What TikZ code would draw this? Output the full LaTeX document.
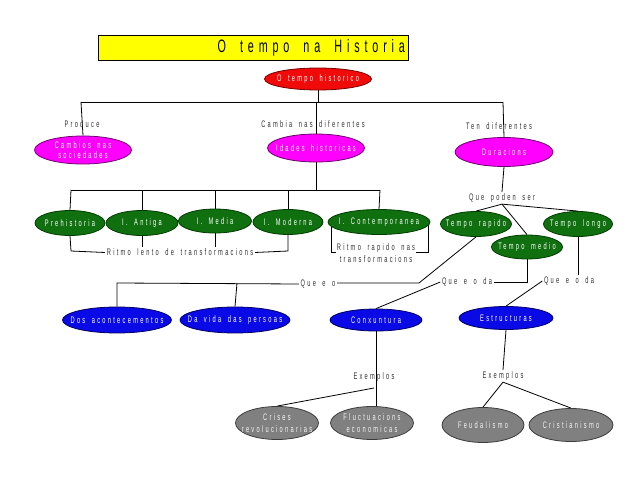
\documentclass[tikz,border=0pt]{standalone}
\usepackage{fontspec}
\setmainfont{Liberation Sans}[FakeStretch=0.6,LetterSpace=24,WordSpace=1.7]
\newfontfamily\titlefont{Liberation Sans}[FakeStretch=0.6,LetterSpace=27]
\usetikzlibrary{shapes.geometric,backgrounds}
\newcommand{\zw}[1]{\makebox[0pt][c]{#1}}
\newcommand{\tsp}{\hspace{14pt}}
\definecolor{ttlyellow}{RGB}{255,255,0}
\definecolor{redfill}{RGB}{240,10,10}
\definecolor{redline}{RGB}{120,0,0}
\definecolor{magfill}{RGB}{255,0,255}
\definecolor{magline}{RGB}{110,0,110}
\definecolor{grnfill}{RGB}{16,112,16}
\definecolor{grnline}{RGB}{0,60,0}
\definecolor{blufill}{RGB}{10,10,230}
\definecolor{bluline}{RGB}{0,0,100}
\definecolor{gryfill}{RGB}{128,128,128}
\definecolor{gryline}{RGB}{60,60,60}
\definecolor{lblgray}{RGB}{50,50,50}
\tikzset{
  ell/.style={ellipse, draw, line width=0.8pt, inner sep=0pt, align=center,
    text=white, font=\fontsize{9.5}{12}\selectfont},
  redell/.style={ell, fill=redfill, draw=redline},
  magell/.style={ell, fill=magfill, draw=magline},
  grnell/.style={ell, fill=grnfill, draw=grnline},
  bluell/.style={ell, fill=blufill, draw=bluline},
  gryell/.style={ell, fill=gryfill, draw=gryline, text=white!92!gray},
  lbl/.style={inner sep=1.5pt, text=lblgray, align=center,
    font=\fontsize{9.5}{12}\selectfont},
  conn/.style={draw=black, line width=0.8pt}
}
\begin{document}
\begin{tikzpicture}[x=1pt,y=-1pt]
\useasboundingbox (0,0) rectangle (638,479);
% title
\node[draw=black, line width=0.8pt, fill=ttlyellow, minimum width=310, minimum height=25,
  text width=304, align=right, inner sep=0pt,
  font=\titlefont\fontsize{18}{20}\selectfont]
  (title) at (253,47.5) {O\tsp tempo\tsp na\tsp Historia};
% nodes
\node[redell, minimum width=107, minimum height=22] (hist) at (318,79) {\zw{O tempo historico}};
\node[magell, minimum width=97, minimum height=28] (camb) at (83,150) {\zw{Cambios nas}\\[-2pt]\zw{sociedades}};
\node[magell, minimum width=97, minimum height=28] (idad) at (316,148) {\zw{Idades historicas}};
\node[magell, minimum width=98, minimum height=29] (dur) at (504,152) {\zw{Duracions}};

\node[grnell, minimum width=70, minimum height=25] (pre) at (70,223) {\zw{Prehistoria}};
\node[grnell, minimum width=72, minimum height=25] (ant) at (142,223) {\zw{I. Antiga}};
\node[grnell, minimum width=73, minimum height=24] (med) at (215,221) {\zw{I. Media}};
\node[grnell, minimum width=70, minimum height=25] (mod) at (288,222) {\zw{I. Moderna}};
\node[grnell, minimum width=102, minimum height=25] (con) at (379,222) {\zw{I. Contemporanea}};

\node[grnell, minimum width=71, minimum height=25] (rap) at (476,224) {\zw{Tempo rapido}};
\node[grnell, minimum width=71, minimum height=24] (medio) at (527,247) {\zw{Tempo medio}};
\node[grnell, minimum width=69, minimum height=25] (longo) at (578,224) {\zw{Tempo longo}};

\node[bluell, minimum width=109, minimum height=26] (dos) at (117,320) {\zw{Dos acontecementos}};
\node[bluell, minimum width=110, minimum height=26] (vida) at (235,320) {\zw{Da vida das persoas}};
\node[bluell, minimum width=92, minimum height=22] (conx) at (376,320) {\zw{Conxuntura}};
\node[bluell, minimum width=94, minimum height=23] (estr) at (506,318) {\zw{Estructuras}};

\node[gryell, minimum width=83, minimum height=33] (cri) at (277,423) {\zw{Crises}\\\zw{revolucionarias}};
\node[gryell, minimum width=83, minimum height=33] (flu) at (372,423) {\zw{Fluctuacions}\\\zw{economicas}};
\node[gryell, minimum width=82, minimum height=35] (feu) at (483,425) {\zw{Feudalismo}};
\node[gryell, minimum width=84, minimum height=33] (cris) at (571,425) {\zw{Cristianismo}};

% labels
\node[lbl] (produce) at (82,124) {Produce};
\node[lbl] (cambia) at (313,124) {Cambia nas diferentes};
\node[lbl] (ten) at (499,126) {Ten diferentes};
\node[lbl] (qps) at (502,198) {Que poden ser};
\node[lbl, fill=white] (rl) at (180,252.5) {Ritmo lento de transformacions};
\node[lbl, inner sep=1pt] (rr) at (376,253.5) {Ritmo rapido nas\\transformacions};
\node[lbl] (qeo) at (318,284) {Que e o};
\node[lbl] (qd1) at (467,282) {Que e o da};
\node[lbl] (qd2) at (569,281) {Que e o da};
\node[lbl] (ex1) at (374,377) {Exemplos};
\node[lbl] (ex2) at (503,376) {Exemplos};

% coordinates
\coordinate (t1) at (81,102);
\coordinate (t2) at (503,102);
\coordinate (h2l) at (71,190);
\coordinate (h2r) at (380,190);
\coordinate (rll) at (71,251);
\coordinate (rlr) at (288,251);
\coordinate (rrl) at (331,252);
\coordinate (rrr) at (428,252);
\coordinate (qel) at (117,283);
\coordinate (qem) at (237,283);
\coordinate (qer) at (419,283);
\coordinate (qdm) at (527,282);
\coordinate (exj) at (374,388);

\begin{pgfonlayer}{background}
\draw[conn] (t1) -- (t2);
\draw[conn] (hist.south) -- (hist.south |- t1);
\draw[conn] (t1) -- (camb.north);
\draw[conn] (idad.north |- t1) -- (idad.north);
\draw[conn] (t2) -- (dur.north);

\draw[conn] (idad.south) -- (idad.south |- h2l);
\draw[conn] (h2l) -- (h2r);
\draw[conn] (h2l) -- (pre.north);
\draw[conn] (ant.north |- h2l) -- (ant.north);
\draw[conn] (med.north |- h2l) -- (med.north);
\draw[conn] (mod.north |- h2l) -- (mod.north);
\draw[conn] (h2r) -- (con.north);

\draw[conn] (pre.south) -- (rll) -- (rl.west);
\draw[conn] (mod.south) -- (rlr) -- (rl.east);
\draw[conn] (ant.south) -- (ant.south |- rl.north);
\draw[conn] (med.south) -- (med.south |- rl.north);
\draw[conn] (rrl |- con.center) -- (rrl) -- (rrl -| rr.west);
\draw[conn] (rrr |- con.center) -- (rrr) -- (rrr -| rr.east);

\draw[conn] (dur.south) -- (qps.north);
\draw[conn] (qps.south) -- (rap.north);
\draw[conn] (qps.south) -- (medio.north);
\draw[conn] (qps.south) -- (longo.north);

\draw[conn] (rap.south) -- (qer) -- (qer -| qeo.east);
\draw[conn] (qeo.west) -- (qel) -- (dos.north);
\draw[conn] (qem) -- (vida.north);
\draw[conn] (medio.south) -- (qdm) -- (qdm -| qd1.east);
\draw[conn] (qd1.west) -- (conx.north);
\draw[conn] (longo.south) -- (longo.south |- qd2.north);
\draw[conn] (qd2.west) -- (estr.north);

\draw[conn] (conx.south) -- (conx.south |- flu.north);
\draw[conn] (exj) -- (cri.north);
\draw[conn] (estr.south) -- (ex2.north);
\draw[conn] (ex2.south) -- (feu.north);
\draw[conn] (ex2.south) -- (cris.north);
\end{pgfonlayer}
\end{tikzpicture}
\end{document}
